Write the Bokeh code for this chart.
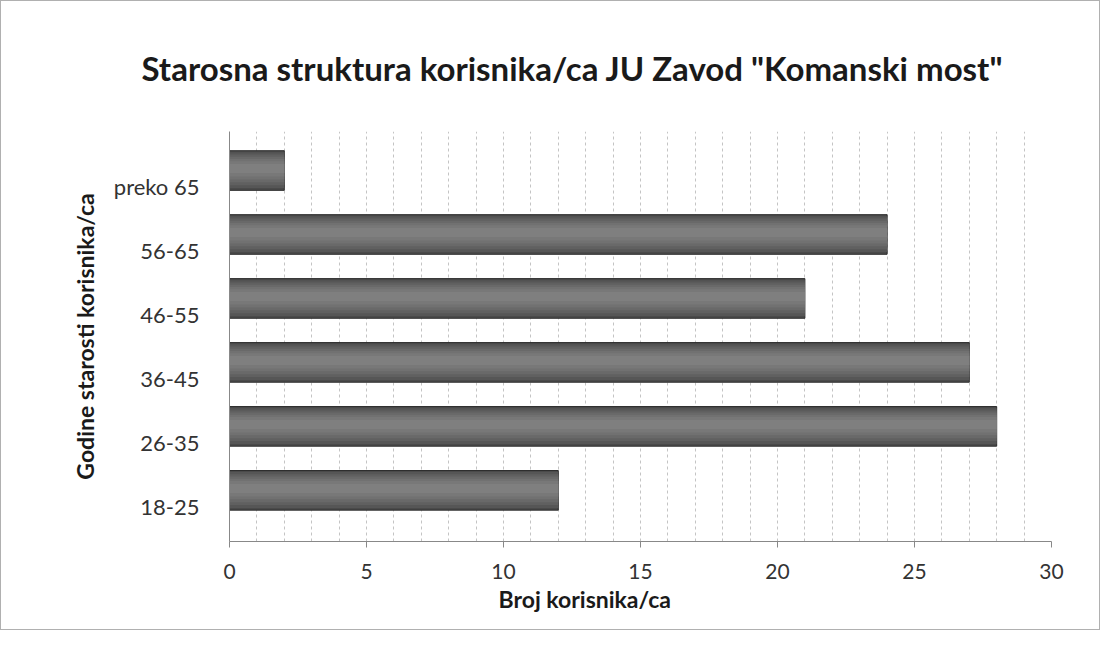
from bokeh.plotting import figure
from bokeh.models import Range1d, FixedTicker, Title, ColumnDataSource
from bokeh.transform import dodge
from bokeh.embed import file_html
from bokeh.resources import INLINE

categories = ["18-25", "26-35", "36-45", "46-55", "56-65", "preko 65"]
values = [12, 28, 27, 21, 24, 2]
x_ticks = [0, 5, 10, 15, 20, 25, 30]

FONT = "Lato"
idx = list(range(len(categories)))
src = ColumnDataSource(dict(y=idx, v=values))

p = figure(width=1100, height=630, output_backend="svg", toolbar_location=None,
           x_range=Range1d(0, 30), y_range=Range1d(-0.55, 5.86),
           min_border_left=228, min_border_right=50, min_border_top=130, min_border_bottom=90)
p.styles = {"border": "1px solid #b0b0b0"}
p.background_fill_color = "white"
p.border_fill_color = "white"
p.outline_line_color = None

# cylinder-like bars: stacked layers from dark edge to light core
layers = [(0.62, 0.25, "#4a4a4a"), (0.56, 0.255, "#565656"), (0.48, 0.26, "#606060"),
          (0.40, 0.265, "#696969"), (0.32, 0.27, "#717171"), (0.24, 0.275, "#787878"),
          (0.14, 0.28, "#7f7f7f")]
for i, (h, off, col) in enumerate(layers):
    p.hbar(y=dodge("y", off, range=p.y_range), right="v", left=0, height=h, source=src,
           fill_color=col, line_color="#2e2e2e" if i == 0 else None, line_width=1)

p.title.text = 'Starosna struktura korisnika/ca JU Zavod "Komanski most"'
p.title.text_font = FONT
p.title.text_font_size = "33px"
p.title.text_font_style = "bold"
p.title.align = "left"
p.title.offset = -88
p.title.text_color = "#1a1a1a"
p.title.standoff = 88

p.xaxis.ticker = FixedTicker(ticks=x_ticks)
p.xaxis.major_label_text_font = FONT
p.xaxis.major_label_text_font_size = "21px"
p.xaxis.major_label_text_color = "#333333"
p.xaxis.axis_line_color = "#888888"
p.xaxis.major_tick_line_color = "#888888"
p.xaxis.major_tick_out = 6
p.xaxis.major_tick_in = 0
p.xaxis.minor_tick_line_color = None
p.xaxis.major_label_standoff = 16

p.yaxis.ticker = FixedTicker(ticks=idx)
p.yaxis.major_label_overrides = {i: c for i, c in zip(idx, categories)}
p.yaxis.major_label_text_font = FONT
p.yaxis.major_label_text_font_size = "22px"
p.yaxis.major_label_text_color = "#333333"
p.yaxis.axis_line_color = "#888888"
p.yaxis.major_tick_line_color = None
p.yaxis.minor_tick_line_color = None
p.yaxis.major_label_standoff = 24
p.yaxis.axis_label = "Godine starosti korisnika/ca"
p.yaxis.axis_label_text_font = FONT
p.yaxis.axis_label_text_font_size = "23px"
p.yaxis.axis_label_text_font_style = "bold"
p.yaxis.axis_label_text_color = "#1a1a1a"
p.yaxis.axis_label_standoff = 12

p.xgrid.ticker = FixedTicker(ticks=list(range(1, 31)))
p.xgrid.grid_line_color = "#c4c4c4"
p.xgrid.grid_line_dash = "3 3"
p.ygrid.grid_line_color = None

xl = Title(text="Broj korisnika/ca", align="left", offset=269, vertical_align="top",
           standoff=6, text_font=FONT, text_font_size="23px", text_font_style="bold",
           text_color="#1a1a1a")
p.add_layout(xl, "below")

open("out.html", "w").write(file_html(p, INLINE))
